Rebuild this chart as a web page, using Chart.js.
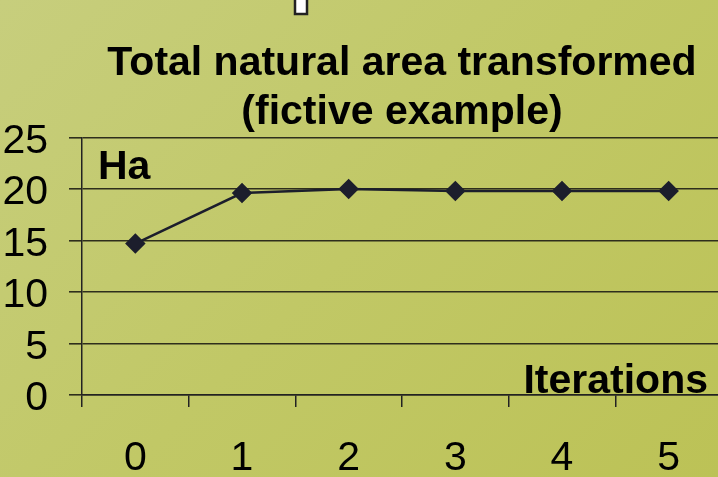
<!DOCTYPE html>
<html>
<head>
<meta charset="utf-8">
<script src="https://cdn.jsdelivr.net/npm/chart.js@4/dist/chart.umd.min.js"></script>
<style>
    html, body {
        margin: 0;
        padding: 0;
        width: 718px;
        height: 477px;
        overflow: hidden;
        background: linear-gradient(135deg, #c7ce7d 0%, #c1c866 50%, #bcc256 100%);
    }
    canvas { display: block; }
</style>
</head>
<body>
<canvas id="areaChart" width="722" height="477"></canvas>
<script>
// Data
const iterations = ['0', '1', '2', '3', '4', '5'];
const areaHa = [14.7, 19.6, 20.0, 19.8, 19.8, 19.8];
const yTicks = [0, 5, 10, 15, 20, 25];
const titleLines = ['Total natural area transformed', '(fictive example)'];
const yUnit = 'Ha';
const xUnit = 'Iterations';

const FONT = "Arial, 'Liberation Sans', sans-serif";
const INK = '#1c1e2c';

// Axis captions inside the plot + the cut off box at the top edge
const extras = {
    id: 'extras',
    afterDraw(chart) {
        const c = chart.ctx;
        const area = chart.chartArea;
        c.save();
        c.fillStyle = '#000';
        c.font = 'bold 41px ' + FONT;
        c.textBaseline = 'alphabetic';
        c.textAlign = 'left';
        c.fillText(yUnit, area.left + 16, area.top + 42);
        c.textAlign = 'right';
        c.fillText(xUnit, 708, area.bottom - 2);

        c.fillStyle = '#fff';
        c.strokeStyle = '#222';
        c.lineWidth = 2.5;
        c.fillRect(295, -4, 12, 18);
        c.strokeRect(295, -4, 12, 18);
        c.restore();
    }
};

const ctx = document.getElementById('areaChart').getContext('2d');
const areaChart = new Chart(ctx, {
    type: 'line',
    data: {
        labels: iterations,
        datasets: [{
            data: areaHa,
            borderColor: INK,
            backgroundColor: INK,
            borderWidth: 2.5,
            tension: 0,
            pointStyle: 'rectRot',
            pointRadius: 8.5,
            pointHoverRadius: 8.5,
            pointBackgroundColor: INK,
            pointBorderColor: INK
        }]
    },
    options: {
        responsive: false,
        animation: false,
        devicePixelRatio: 1,
        layout: { padding: 0, autoPadding: false },
        scales: {
            x: {
                offset: true,
                afterFit(scale) { scale.height = 82; },
                grid: {
                    offset: true,
                    drawOnChartArea: false,
                    tickLength: 12,
                    color: '#222',
                    lineWidth: 1.5
                },
                border: { color: '#222', width: 1.5 },
                ticks: {
                    color: '#000',
                    padding: 31,
                    font: { family: FONT, size: 41, lineHeight: 1 }
                }
            },
            y: {
                min: 0,
                max: 25,
                afterBuildTicks(scale) {
                    scale.ticks = yTicks.map(v => ({ value: v }));
                },
                afterFit(scale) { scale.width = 82; },
                grid: {
                    tickLength: 13,
                    color: '#2e2e1c',
                    lineWidth: 1.6
                },
                border: { color: '#222', width: 1.5 },
                ticks: {
                    color: '#000',
                    padding: 21,
                    labelOffset: 4,
                    font: { family: FONT, size: 41, lineHeight: 1 }
                }
            }
        },
        plugins: {
            legend: { display: false },
            tooltip: { enabled: false },
            title: {
                display: true,
                fullSize: false,
                text: titleLines,
                color: '#000',
                font: { family: FONT, size: 41, weight: 'bold', lineHeight: 1.2 },
                padding: { top: 39, bottom: 0 }
            }
        }
    },
    plugins: [extras]
});
</script>
</body>
</html>
